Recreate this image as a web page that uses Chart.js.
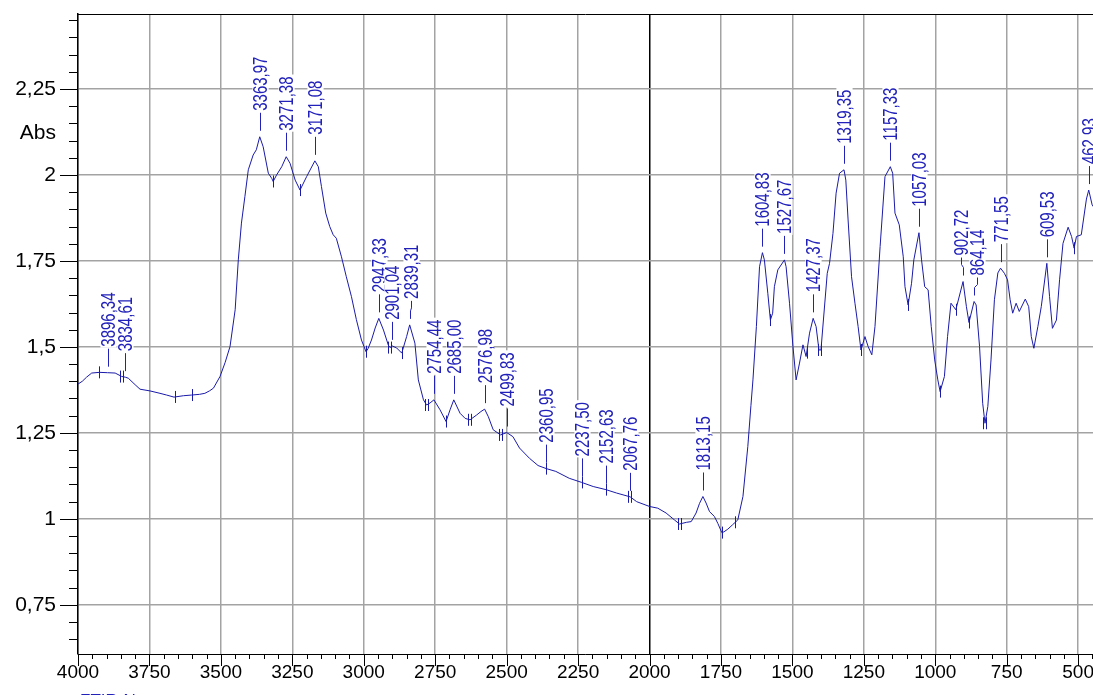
<!DOCTYPE html>
<html>
<head>
<meta charset="utf-8">
<script src="https://cdn.jsdelivr.net/npm/chart.js@4.4.1/dist/chart.umd.min.js"></script>
<style>
  html, body { margin: 0; padding: 0; background: #fff; overflow: hidden; }
  #wrap { width: 1093px; height: 695px; }
</style>
</head>
<body>
<div id="wrap"><canvas id="ftir" width="1093" height="695"></canvas></div>
<script>
// spectrum (cm-1 / Abs)
const wavenumbers = [
  4000, 3985, 3970, 3952, 3925, 3896.34, 3870, 3847, 3834.61, 3824, 3800, 3783, 3748, 3713, 3690, 3664,
  3631, 3602, 3575, 3556, 3540, 3526, 3503, 3485, 3468, 3450, 3439, 3428, 3416, 3404, 3387, 3376,
  3363.97, 3352, 3334, 3322, 3317, 3305, 3287, 3271.38, 3258, 3240, 3223, 3200, 3171.08, 3159, 3148, 3133,
  3119, 3107, 3096, 3078, 3061, 3043, 3026, 3008, 2992, 2985, 2973, 2960, 2947.33, 2931, 2914, 2908,
  2901.04, 2885, 2867, 2850, 2839.31, 2821, 2809, 2791, 2780, 2768, 2754.44, 2733, 2712, 2698, 2685, 2663,
  2645, 2628, 2605, 2590, 2576.98, 2564, 2547, 2521, 2499.83, 2478, 2455, 2420, 2390, 2360.95, 2328, 2281,
  2237.5, 2197, 2152.63, 2115, 2067.76, 2045, 2000, 1971, 1942, 1913, 1895, 1870, 1854, 1837, 1825, 1813.15,
  1802, 1790, 1773, 1761, 1747, 1740, 1726, 1709, 1691, 1673, 1656, 1645, 1638, 1626, 1615, 1604.83,
  1598, 1586, 1577, 1569, 1563, 1551, 1527.67, 1522, 1510, 1498, 1487, 1475, 1463, 1452, 1440, 1427.37,
  1417, 1407, 1400, 1378, 1370, 1358, 1347, 1335, 1319.35, 1313, 1305, 1293, 1281, 1270, 1260, 1246,
  1235, 1222, 1211, 1193, 1176, 1157.33, 1149, 1141, 1126, 1112, 1106, 1095, 1083, 1075, 1057.03, 1048,
  1037, 1025, 1014, 1002, 991, 983, 968, 957, 945, 928, 902.72, 891, 882, 864.14, 857, 845,
  834, 826, 816, 805, 793, 781, 771.55, 758, 747, 738, 729, 717, 706, 685, 673, 664,
  655, 641, 629, 609.53, 600, 590, 576, 565, 553, 535, 523, 514, 506, 489, 471, 462.93,
  451, 440
];
const absorbance = [
  1.392, 1.400, 1.412, 1.424, 1.426, 1.425, 1.424, 1.414, 1.412, 1.409, 1.390, 1.377, 1.372, 1.365, 1.360, 1.354,
  1.358, 1.360, 1.362, 1.365, 1.372, 1.380, 1.414, 1.455, 1.501, 1.608, 1.753, 1.860, 1.937, 2.015, 2.058, 2.073,
  2.111, 2.082, 2.005, 1.990, 1.981, 2.000, 2.024, 2.053, 2.034, 1.985, 1.956, 1.995, 2.041, 2.024, 1.966, 1.889,
  1.850, 1.826, 1.816, 1.762, 1.704, 1.646, 1.580, 1.520, 1.486, 1.495, 1.520, 1.555, 1.583, 1.549, 1.505, 1.498,
  1.503, 1.497, 1.482, 1.530, 1.564, 1.511, 1.404, 1.346, 1.331, 1.337, 1.346, 1.317, 1.283, 1.317, 1.346, 1.307,
  1.292, 1.288, 1.302, 1.312, 1.319, 1.297, 1.259, 1.244, 1.251, 1.239, 1.206, 1.176, 1.155, 1.146, 1.138, 1.118,
  1.106, 1.094, 1.085, 1.075, 1.064, 1.050, 1.036, 1.031, 1.017, 0.997, 0.985, 0.990, 0.992, 1.017, 1.045, 1.065,
  1.046, 1.021, 1.007, 0.987, 0.960, 0.962, 0.970, 0.983, 0.997, 1.065, 1.210, 1.330, 1.404, 1.559, 1.733, 1.774,
  1.753, 1.656, 1.578, 1.598, 1.675, 1.724, 1.753, 1.733, 1.627, 1.501, 1.404, 1.453, 1.506, 1.472, 1.540, 1.583,
  1.559, 1.491, 1.491, 1.714, 1.743, 1.830, 1.947, 2.005, 2.015, 1.985, 1.869, 1.704, 1.627, 1.559, 1.491, 1.530,
  1.501, 1.477, 1.559, 1.792, 1.995, 2.024, 2.005, 1.889, 1.855, 1.762, 1.675, 1.622, 1.685, 1.753, 1.832, 1.753,
  1.675, 1.666, 1.559, 1.462, 1.404, 1.370, 1.414, 1.530, 1.627, 1.608, 1.690, 1.617, 1.571, 1.632, 1.622, 1.501,
  1.336, 1.278, 1.327, 1.462, 1.637, 1.715, 1.729, 1.714, 1.695, 1.637, 1.598, 1.627, 1.603, 1.639, 1.617, 1.530,
  1.496, 1.559, 1.617, 1.743, 1.646, 1.554, 1.578, 1.695, 1.801, 1.848, 1.821, 1.787, 1.821, 1.826, 1.930, 1.956,
  1.913, 1.900
];

// picked peaks
const peakPositions = [3896.34, 3834.61, 3363.97, 3271.38, 3171.08, 2947.33, 2901.04, 2839.31, 2754.44, 2685.00,
  2576.98, 2499.83, 2360.95, 2237.50, 2152.63, 2067.76, 1813.15, 1604.83, 1527.67, 1427.37, 1319.35, 1157.33,
  1057.03, 902.72, 864.14, 771.55, 609.53, 462.93];
const peakLabels = ['3896,34', '3834,61', '3363,97', '3271,38', '3171,08', '2947,33', '2901,04', '2839,31', '2754,44', '2685,00',
  '2576,98', '2499,83', '2360,95', '2237,50', '2152,63', '2067,76', '1813,15', '1604,83', '1527,67', '1427,37', '1319,35', '1157,33',
  '1057,03', '902,72', '864,14', '771,55', '609,53', '462,93'];
// sideways nudge of crowded labels (px)
const peakShift = [0, 0, 0, 0, 0, 0, 0, 1, 0, 0,
  0, 0, 0, 0, 0, 0, 0, 0, 0, 0, 0, 0,
  0, -2, 3, 0, 0, 0];

// peak boundary marks on the trace
const valleyPositions = [3925, 3845, 3660, 3602, 3317, 3223, 2992, 2908, 2867, 2780, 2712, 2628, 2521, 2360.95,
  2237.5, 2152.63, 2067.76, 1895, 1747, 1700, 1577, 1450, 1403, 1260, 1095, 983, 928, 882, 826, 514];
const valleyDouble = [0, 1, 0, 0, 0, 0, 0, 1, 0, 1, 0, 1, 1, 0,
  0, 0, 1, 1, 0, 0, 0, 0, 1, 0, 0, 0, 0, 0, 1, 0];

const xTickValues = [4000, 3750, 3500, 3250, 3000, 2750, 2500, 2250, 2000, 1750, 1500, 1250, 1000, 750, 500];
const yTickValues = [0.75, 1, 1.25, 1.5, 1.75, 2, 2.25];

const FONT = 'Liberation Sans, Arial, sans-serif';
const TRACE = '#1a1aa8';
const LABEL = '#2222bb';

function absAt(w) {
  for (let i = 0; i < wavenumbers.length - 1; i++) {
    const a = wavenumbers[i], b = wavenumbers[i + 1];
    if (w <= a && w >= b) {
      const t = (a - w) / (a - b);
      return absorbance[i] + t * (absorbance[i + 1] - absorbance[i]);
    }
  }
  return absorbance[absorbance.length - 1];
}

const axisExtras = {
  id: 'axisExtras',
  afterDraw(chart) {
    const { ctx, chartArea: ca, scales: { x, y } } = chart;
    ctx.save();
    ctx.strokeStyle = '#000';
    ctx.lineWidth = 1;
    // top border
    ctx.beginPath();
    ctx.moveTo(ca.left, ca.top + 0.5);
    ctx.lineTo(ca.right, ca.top + 0.5);
    ctx.stroke();
    // y ticks, major + minor every 0.05
    ctx.beginPath();
    for (let k = 13; k <= 49; k++) {
      const v = k * 0.05;
      const py = Math.round(y.getPixelForValue(v)) + 0.5;
      const len = (k % 5 === 0) ? 18 : 9;
      ctx.moveTo(ca.left - len, py);
      ctx.lineTo(ca.left, py);
    }
    // x ticks, major every 250, minor every 50
    for (let k = 9; k <= 80; k++) {
      const v = k * 50;
      const px = Math.round(x.getPixelForValue(v)) + 0.5;
      const len = (k % 5 === 0) ? 12 : 5;
      ctx.moveTo(px, ca.bottom);
      ctx.lineTo(px, ca.bottom + len);
    }
    ctx.stroke();
    // axis title
    ctx.fillStyle = '#000';
    ctx.font = '21px ' + FONT;
    ctx.textAlign = 'right';
    ctx.textBaseline = 'middle';
    ctx.fillText('Abs', 56, 133);
    // file name, mostly below the window
    ctx.fillStyle = LABEL;
    ctx.font = '17px ' + FONT;
    ctx.textAlign = 'left';
    ctx.textBaseline = 'top';
    ctx.fillText('FTIR-N', 80, 693);
    ctx.restore();
  }
};

const peakMarks = {
  id: 'peakMarks',
  afterDatasetsDraw(chart) {
    const { ctx, scales: { x, y } } = chart;
    ctx.save();
    ctx.lineWidth = 1;
    // boundary marks
    ctx.strokeStyle = TRACE;
    valleyPositions.forEach((w, i) => {
      const px = Math.round(x.getPixelForValue(w));
      const py = y.getPixelForValue(absAt(w));
      const xs = valleyDouble[i] ? [px - 1.5, px + 1.5] : [px + 0.5];
      ctx.beginPath();
      xs.forEach(xx => { ctx.moveTo(xx, py - 6); ctx.lineTo(xx, py + 6); });
      ctx.stroke();
    });
    // peak labels
    ctx.font = '15px ' + FONT;
    peakPositions.forEach((w, i) => {
      const px = Math.round(x.getPixelForValue(w)) + 0.5;
      const py = y.getPixelForValue(absAt(w));
      const tx = px + peakShift[i];
      const text = peakLabels[i];
      ctx.save();
      ctx.strokeStyle = LABEL;
      ctx.beginPath();
      ctx.moveTo(px, py - 6);
      if (peakShift[i]) {
        ctx.lineTo(px, py - 14);
        ctx.lineTo(tx, py - 17);
      }
      ctx.lineTo(tx, py - 24);
      ctx.stroke();
      ctx.translate(tx, py - 26);
      ctx.scale(1.35, 1);
      ctx.rotate(-Math.PI / 2);
      const tw = ctx.measureText(text).width;
      ctx.fillStyle = '#fff';
      ctx.fillRect(-1, -6, tw + 3, 12);
      ctx.fillStyle = LABEL;
      ctx.textAlign = 'left';
      ctx.textBaseline = 'middle';
      ctx.fillText(text, 0, 1);
      ctx.restore();
    });
    ctx.restore();
  }
};

new Chart(document.getElementById('ftir'), {
  type: 'line',
  data: {
    datasets: [{
      data: wavenumbers.map((w, i) => ({ x: w, y: absorbance[i] })),
      borderColor: TRACE,
      borderWidth: 1,
      pointRadius: 0,
      tension: 0,
      fill: false
    }]
  },
  options: {
    responsive: false,
    animation: false,
    devicePixelRatio: 1,
    layout: { padding: { top: 14, right: 0, left: 0, bottom: 0 } },
    plugins: { legend: { display: false }, tooltip: { enabled: false } },
    scales: {
      x: {
        type: 'linear',
        reverse: true,
        min: 448,
        max: 4000,
        afterBuildTicks: s => { s.ticks = xTickValues.map(v => ({ value: v })); },
        afterFit: s => { s.height = 41; s.paddingLeft = 0; s.paddingRight = 0; },
        ticks: {
          padding: 7,
          maxRotation: 0,
          autoSkip: false,
          color: '#000',
          font: { family: FONT, size: 19 },
          callback: v => String(v)
        },
        grid: {
          drawTicks: false,
          lineWidth: 1.5,
          color: c => (c.tick && c.tick.value === 2000) ? '#000' : '#a3a3a3'
        },
        border: { color: '#000', width: 1 }
      },
      y: {
        min: 0.607,
        max: 2.468,
        afterBuildTicks: s => { s.ticks = yTickValues.map(v => ({ value: v })); },
        afterFit: s => { s.width = 78; s.paddingTop = 0; s.paddingBottom = 0; },
        ticks: {
          padding: 22,
          color: '#000',
          font: { family: FONT, size: 21 },
          callback: v => String(v).replace('.', ',')
        },
        grid: { drawTicks: false, lineWidth: 1.5, color: '#a3a3a3' },
        border: { color: '#000', width: 1.5 }
      }
    }
  },
  plugins: [axisExtras, peakMarks]
});
</script>
</body>
</html>
